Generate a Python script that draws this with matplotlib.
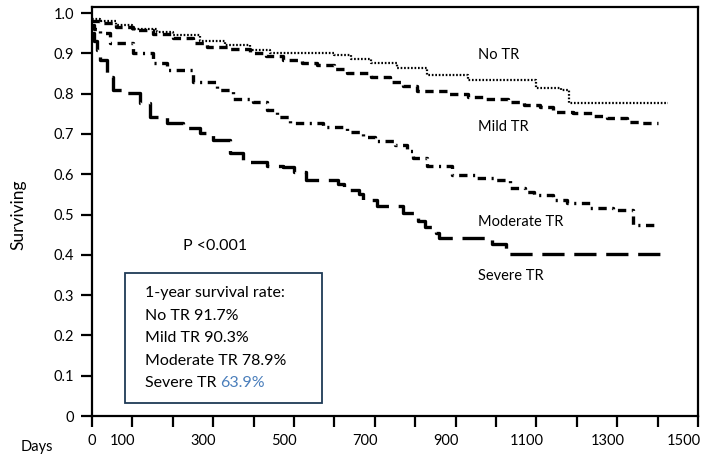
import matplotlib.pyplot as plt
import matplotlib.transforms as mtransforms
import numpy as np

plt.rcParams['font.family'] = ['Lato', 'DejaVu Sans']
plt.rcParams['lines.scale_dashes'] = False

# Kaplan-Meier step data
no_tr_days = [0, 20, 60, 100, 160, 200, 267, 330, 391, 440, 600, 640, 690, 755,
              830, 930, 1100, 1160, 1180, 1425]
no_tr_surv = [0.985, 0.98, 0.97, 0.96, 0.953, 0.945, 0.93, 0.92, 0.908, 0.90,
              0.895, 0.886, 0.876, 0.863, 0.846, 0.834, 0.815, 0.81, 0.776, 0.776]

mild_days = [0, 20, 60, 101, 150, 200, 250, 284, 340, 391, 430, 473, 520, 557,
             600, 631, 690, 737, 770, 804, 880, 930, 970, 1030, 1070, 1110,
             1140, 1190, 1240, 1275, 1325, 1360, 1400]
mild_surv = [0.98, 0.975, 0.965, 0.958, 0.948, 0.938, 0.925, 0.916, 0.91, 0.90,
             0.893, 0.883, 0.877, 0.871, 0.86, 0.851, 0.841, 0.829, 0.82, 0.806,
             0.799, 0.792, 0.786, 0.779, 0.772, 0.767, 0.754, 0.752, 0.744,
             0.739, 0.73, 0.727, 0.727]

moderate_days = [0, 5, 20, 45, 101, 150, 186, 250, 309, 349, 399, 433, 458, 490,
                 572, 631, 670, 700, 750, 780, 795, 830, 890, 950, 1000, 1035,
                 1072, 1094, 1141, 1176, 1233, 1290, 1339, 1400]
moderate_surv = [0.97, 0.96, 0.95, 0.925, 0.90, 0.875, 0.858, 0.829, 0.809,
                 0.786, 0.779, 0.759, 0.742, 0.727, 0.717, 0.705, 0.692, 0.682,
                 0.672, 0.657, 0.640, 0.620, 0.598, 0.59, 0.586, 0.566, 0.556,
                 0.548, 0.536, 0.529, 0.516, 0.512, 0.474, 0.474]

severe_days = [0, 5, 12, 20, 37, 52, 87, 119, 144, 186, 225, 267, 300, 342, 374,
               433, 473, 500, 530, 610, 625, 660, 670, 705, 770, 807, 825, 852,
               860, 990, 1025, 1406]
severe_surv = [0.95, 0.93, 0.908, 0.883, 0.841, 0.809, 0.801, 0.776, 0.742,
               0.727, 0.715, 0.702, 0.685, 0.652, 0.63, 0.62, 0.618, 0.605, 0.585,
               0.575, 0.561, 0.55, 0.536, 0.521, 0.504, 0.485, 0.469, 0.455,
               0.442, 0.427, 0.402, 0.402]

x_ticks = np.arange(0, 1600, 100)
x_labels = ['0', '100', '', '300', '', '500', '', '700', '', '900', '', '1100',
            '', '1300', '', '1500']
y_ticks = np.arange(0, 1.01, 0.1)
y_labels = ['0'] + ['%.1f' % v for v in y_ticks[1:]]

fig = plt.figure(figsize=(7.03, 4.55), dpi=100)
ax = fig.add_axes([92 / 703, 39 / 455, 606 / 703, 409 / 455])

ax.step(no_tr_days, no_tr_surv, where='post', color='k', lw=1.6,
        linestyle=(0, (1.2, 1.3)))
ax.step(mild_days, mild_surv, where='post', color='k', lw=2.4,
        linestyle=(0, (6, 4)))
ax.step(moderate_days, moderate_surv, where='post', color='k', lw=2.4,
        linestyle=(0, (6, 4, 1.5, 4)))
ax.step(severe_days, severe_surv, where='post', color='k', lw=2.4,
        linestyle=(0, (16, 7)))

ax.set_xlim(0, 1500)
ax.set_ylim(0, 1.015)
ax.set_xticks(x_ticks)
ax.set_xticklabels(x_labels, fontsize=10.5)
ax.set_yticks(y_ticks)
ax.set_yticklabels(y_labels, fontsize=10.5)
ax.tick_params(axis='both', direction='out', length=8, width=1.6, pad=5)
for s in ax.spines.values():
    s.set_linewidth(1.6)

# tick labels sit a little left of their ticks in the original
offset = mtransforms.ScaledTranslation(-7 / 72, 0, fig.dpi_scale_trans)
last_offset = mtransforms.ScaledTranslation(-10 / 72, 0, fig.dpi_scale_trans)
xlabs = ax.get_xticklabels()
for lab in xlabs[1:-1]:
    lab.set_transform(lab.get_transform() + offset)
xlabs[-1].set_transform(xlabs[-1].get_transform() + last_offset)

fig.text(18 / 703, 1 - 215 / 455, 'Surviving', fontsize=12.5, rotation=90,
         ha='center', va='center')
fig.text(37 / 703, 1 - 447 / 455, 'Days', fontsize=10.5, ha='center',
         va='center')

# curve labels
for txt, y in [('No TR', 0.896), ('Mild TR', 0.716), ('Moderate TR', 0.482),
               ('Severe TR', 0.347)]:
    ax.text(955, y, txt, fontsize=10.5, ha='left', va='center')

ax.text(226, 0.422, 'P <0.001', fontsize=11.5, ha='left', va='center')

# summary box
box = plt.Rectangle((81, 0.032), 489, 0.323, fill=False, ec='#1f3a56', lw=1.3)
ax.add_patch(box)
lines = ['1-year survival rate:', 'No TR 91.7%', 'Mild TR 90.3%',
         'Moderate TR 78.9%']
for i, t in enumerate(lines):
    ax.text(131, 0.305 - i * 0.056, t, fontsize=11.5, ha='left', va='center')
t = ax.text(131, 0.305 - 4 * 0.056, 'Severe TR ', fontsize=11.5, ha='left',
            va='center')
fig.canvas.draw()
bb = t.get_window_extent().transformed(ax.transData.inverted())
ax.text(bb.x1, 0.305 - 4 * 0.056, '63.9%', fontsize=11.5, ha='left',
        va='center', color='#4a7ebb')

fig.savefig('out.png', dpi=100)
